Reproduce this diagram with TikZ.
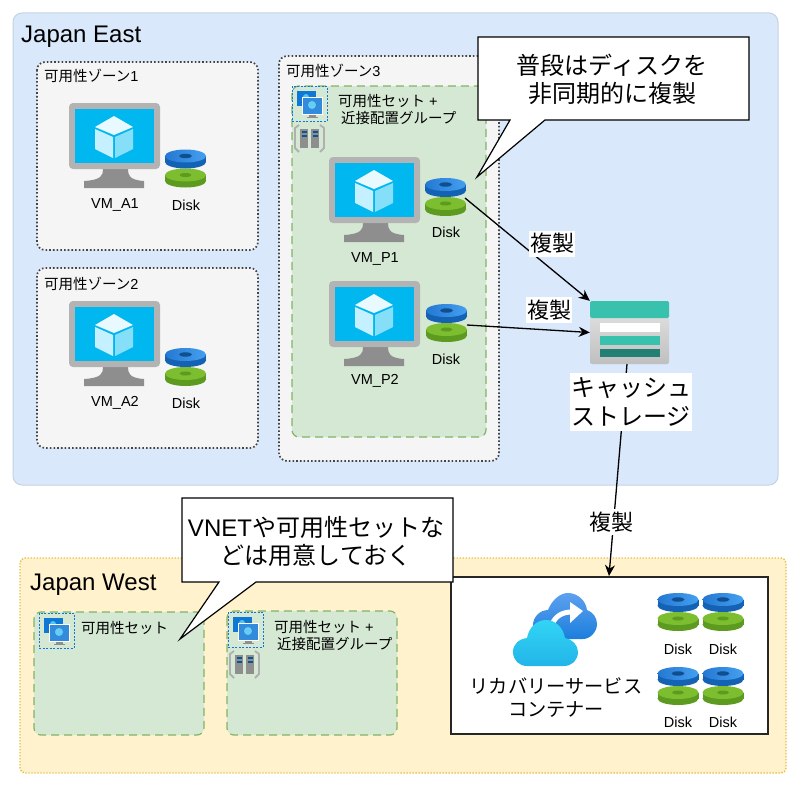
\documentclass[tikz,border=0pt]{standalone}
\usepackage{fontspec}
\setmainfont{Liberation Sans}
\newfontfamily\cjk{Noto Sans CJK JP}
\newcommand{\J}[1]{{\cjk #1}}
\usetikzlibrary{arrows.meta}
\definecolor{eastfill}{HTML}{D9E8FB}
\definecolor{eastline}{HTML}{C6D2E2}
\definecolor{zonefill}{HTML}{F5F5F5}
\definecolor{zoneline}{HTML}{444444}
\definecolor{setfill}{HTML}{D5E8D4}
\definecolor{setline}{HTML}{82B366}
\definecolor{westfill}{HTML}{FFF2CC}
\definecolor{westline}{HTML}{E8BE45}
\definecolor{monframe}{HTML}{B3B3B3}
\definecolor{monstand}{HTML}{8E8E8E}
\definecolor{monscreen}{HTML}{00B7F0}
\definecolor{cubetop}{HTML}{E8F9FF}
\definecolor{cubeleft}{HTML}{C4F0FF}
\definecolor{cuberight}{HTML}{85DFF9}
\definecolor{diskblueA}{HTML}{2478D2}
\definecolor{diskblueB}{HTML}{45A0F0}
\definecolor{diskblueC}{HTML}{1462B4}
\definecolor{diskhole}{HTML}{0F4F90}
\definecolor{diskgreenA}{HTML}{5C9A20}
\definecolor{diskgreenB}{HTML}{7DBE30}
\definecolor{teal}{HTML}{38C2AE}
\definecolor{darkteal}{HTML}{217F74}
\definecolor{iconblue}{HTML}{0F78D4}
\definecolor{cloudA}{HTML}{5EA0EF}
\definecolor{cloudB}{HTML}{1B7FDC}
\definecolor{cloudC}{HTML}{32D4F5}
\definecolor{cloudD}{HTML}{22B5E8}
\tikzset{
  zonebox/.style={rounded corners=8pt,fill=zonefill,draw=zoneline,line width=1.7pt,dash pattern=on 1.6pt off 2.1pt},
  setbox/.style={rounded corners=7pt,fill=setfill,draw=setline,line width=1.2pt,dash pattern=on 8pt off 5pt},
  small/.style={font=\fontsize{14.5}{17}\selectfont,inner sep=0pt},
  smallleft/.style={small,anchor=west},
  big/.style={font=\fontsize{24}{28}\selectfont,inner sep=0pt},
  bigleft/.style={big,anchor=base west},
  flow/.style={draw=black,line width=1.3pt,-{Stealth[length=11pt,width=10pt]}},
  repl/.style={fill=white,font=\fontsize{22}{26}\selectfont,inner xsep=1pt,inner ysep=1pt,minimum width=46pt,minimum height=26pt},
  diskslot/.style={minimum width=41pt,minimum height=38pt,inner sep=0pt},
  callout/.style={fill=white,draw=black,line width=1.2pt},
  pics/monitor/.style={code={
    \fill[monstand] (34,66) .. controls (34,72) and (33,77) .. (15,78) -- (15,85) -- (75,85) -- (75,78) .. controls (60,77) and (59,72) .. (59,66) -- cycle;
    \fill[monframe,rounded corners=4pt] (0,0) rectangle (91,66);
    \fill[monscreen] (6,6) rectangle (85,60);
    \fill[cubetop] (45,13)--(64,24)--(45,32)--(26,24)--cycle;
    \fill[cubeleft] (26,26)--(44,34)--(44,55)--(26,46)--cycle;
    \fill[cuberight] (64,26)--(46,34)--(46,55)--(64,46)--cycle;
  }},
  pics/disk/.style={code={
    % green lower plate
    \fill[diskgreenA] (0,12.5) ellipse[x radius=20.5,y radius=6.5];
    \fill[diskgreenA] (-20.5,6.5) rectangle (20.5,12.5);
    \fill[diskgreenB] (0,6.5) ellipse[x radius=20.5,y radius=6.5];
    \fill[diskgreenA] (0,6.5) ellipse[x radius=6,y radius=2];
    % blue upper plate
    \fill[diskblueC] (0,-6.5) ellipse[x radius=20.5,y radius=6.5];
    \fill[diskblueC] (-20.5,-12.5) rectangle (20.5,-6.5);
    \shade[left color=diskblueA,right color=diskblueB] (0,-12.5) ellipse[x radius=20.5,y radius=6.5];
    \fill[diskhole] (0,-12.5) ellipse[x radius=6.5,y radius=2.2];
  }},
  pics/vmset/.style={code={
    \draw[iconblue,line width=1pt,dash pattern=on 2pt off 1.5pt] (0,0) rectangle (35,35);
    \fill[iconblue] (5,5) rectangle (24,20);
    \fill[cyan!70!white] (14,11) circle (3);
    \fill[monstand] (17,27) rectangle (24,31);
    \fill[monstand] (15,30.5) rectangle (26,32);
    \fill[white] (9.5,11) rectangle (31,28.5);
    \fill[iconblue!85!white] (10.5,12) rectangle (30,27.5);
    \fill[cyan!60!white] (20,19) circle (4);
  }},
  pics/group/.style={code={
    \draw[monstand!70!white,line width=1.8pt] (6,1) -- (2,4) -- (2,24) -- (6,28);
    \draw[monstand!70!white,line width=1.8pt] (27,1) -- (31,4) -- (31,24) -- (27,28);
    \fill[monstand] (7,5) rectangle (15,24);
    \fill[monstand] (18,5) rectangle (26,24);
    \fill[iconblue!70!black] (8.5,7) rectangle (13.5,9);
    \fill[iconblue!70!black] (8.5,11) rectangle (13.5,13);
    \fill[iconblue!70!black] (19.5,7) rectangle (24.5,9);
    \fill[iconblue!70!black] (19.5,11) rectangle (24.5,13);
  }},
}
\begin{document}
\begin{tikzpicture}[x=1pt,y=-1pt]
\useasboundingbox (0,0) rectangle (800,784);
\fill[white] (0,0) rectangle (800,784);
% regions
\draw[rounded corners=9pt,line width=1pt,fill=eastfill,draw=eastline] (13,13) rectangle (778,485);
\draw[rounded corners=5pt,fill=westfill,draw=westline,line width=1.4pt,dash pattern=on 1.4pt off 1.6pt] (20,558) rectangle (786,773);
\node[bigleft] (east) at (21,43) {Japan East};
\node[bigleft] (west) at (30,590) {Japan West};
% zones
\draw[zonebox] (37,62) rectangle (258,250);
\draw[zonebox] (37,268) rectangle (258,448);
\draw[zonebox] (279,56) rectangle (499,461);
\node[smallleft] (z1) at (44,76) {\J{可用性ゾーン}1};
\node[smallleft] (z2) at (44,284) {\J{可用性ゾーン}2};
\node[smallleft] (z3) at (286,71) {\J{可用性ゾーン}3};
% set box in zone 3
\draw[setbox] (292,86) rectangle (486,437);
\pic at (292,86) {vmset};
\pic at (293,124) {group};
\node[smallleft] (s3a) at (338,101) {\J{可用性セット} +};
\node[smallleft] (s3b) at (341,118) {\J{近接配置グループ}};
% monitors
\pic at (69,103) {monitor};
\pic at (69,301) {monitor};
\pic at (329,157) {monitor};
\pic at (329,281) {monitor};
\node[small] (vma1) at (115,205) {VM\_A1};
\node[small] (vma2) at (115,403) {VM\_A2};
\node[small] (vmp1) at (375,259) {VM\_P1};
\node[small] (vmp2) at (375,381) {VM\_P2};
% disks
\node[diskslot] (da1) at (185.5,168.5) {}; \pic at (da1) {disk};
\node[diskslot] (da2) at (185.5,367) {}; \pic at (da2) {disk};
\node[diskslot] (dp1) at (445.5,197) {}; \pic at (dp1) {disk};
\node[diskslot] (dp2) at (446.5,323) {}; \pic at (dp2) {disk};
\node[small] (la1) at (186,205) {Disk};
\node[small] (la2) at (186,403) {Disk};
\node[small] (lp1) at (446,232) {Disk};
\node[small] (lp2) at (446,359) {Disk};
% storage
\node[minimum width=79pt,minimum height=63pt,inner sep=0pt,rounded corners=2pt,top color=white!90!black,bottom color=black!25] (store) at (629.5,332.5) {};
\fill[teal,rounded corners=1.5pt] (590,301) rectangle (669,318);
\fill[white] (600,323) rectangle (660,332);
\fill[teal] (600,336) rectangle (660,345);
\fill[darkteal] (600,349) rectangle (660,357);
\coordinate (p1out) at (465,198);
\coordinate (p2out) at (467,325);
\coordinate (stout) at (627,364);
% recovery container
\node[fill=white,draw=black!85,line width=1.3pt,minimum width=317pt,minimum height=157pt,inner sep=0pt] (vault) at (609.5,655.5) {};
\coordinate (vaultin) at (609,576);
% connectors
\draw[flow] (p1out) -- (store.north west);
\draw[flow] (p2out) -- (store.west);
\draw[flow] (stout) -- (vaultin);
% connector labels
\node[repl] (r1) at (552,243.5) {\J{複製}};
\node[repl] (r2) at (549,310) {\J{複製}};
\node[repl] (r3) at (611.5,522) {\J{複製}};
\node[fill=white,font=\fontsize{24}{29}\selectfont,align=center,inner sep=0pt,minimum width=122pt,minimum height=58pt] (cache) at (631,402) {\J{キャッシュ}\\\J{ストレージ}};
% west sets
\draw[setbox] (34,612) rectangle (204,735);
\draw[setbox] (227,611) rectangle (397,735);
\pic at (39,613) {vmset};
\pic at (228,612) {vmset};
\pic at (228,650) {group};
\node[smallleft] (w1) at (81,628) {\J{可用性セット}};
\node[smallleft] (w2a) at (274,627) {\J{可用性セット} +};
\node[smallleft] (w2b) at (277,644) {\J{近接配置グループ}};
% callouts
\coordinate (tip1) at (477,177);
\coordinate (tip2) at (180,639);
\draw[callout] (478,37) -- (749,37) -- (749,120) -- (545,120) -- (tip1) -- (510,120) -- (478,120) -- cycle;
\node[big,align=center] (c1) at (612,79) {\J{普段はディスクを}\\\J{非同期的に複製}};
\draw[callout] (182,498) -- (453,498) -- (453,582) -- (256,582) -- (tip2) -- (219,582) -- (182,582) -- cycle;
\node[big,align=center] (c2) at (316,541) {VNET\J{や可用性セットな}\\\J{どは用意しておく}};
% cloud
\shade[top color=cloudA,bottom color=cloudB]
  (548,639) .. controls (540,639) and (533,633) .. (533,625) .. controls (533,617) and (540,610) .. (548,610) .. controls (552,600) and (560,593) .. (568,593) .. controls (578,593) and (586,601) .. (587,610) .. controls (593,612) and (597,618) .. (597,624) .. controls (597,632) and (590,639) .. (583,639) -- cycle;
\draw[white,line width=5pt] (552,624) .. controls (556,616) and (562,612) .. (572,612);
\fill[white] (570,602) -- (583,611) -- (570,623) -- cycle;
\shade[top color=cloudC,bottom color=cloudD]
  (527,666) .. controls (519,666) and (513,660) .. (513,652) .. controls (513,644) and (519,639) .. (527,638) .. controls (529,627) and (537,620) .. (546,620) .. controls (555,620) and (563,627) .. (565,638) .. controls (572,639) and (578,645) .. (578,652) .. controls (578,660) and (572,666) .. (564,666) -- cycle;
\node[font=\fontsize{19.2}{23}\selectfont,align=center,inner sep=0pt] (rsv) at (556,698) {\J{リカバリーサービス}\\\J{コンテナー}};
% vault disks
\node[diskslot] (v1) at (678,612) {}; \pic at (v1) {disk};
\node[diskslot] (v2) at (723,612) {}; \pic at (v2) {disk};
\node[diskslot] (v3) at (678,686) {}; \pic at (v3) {disk};
\node[diskslot] (v4) at (723,686) {}; \pic at (v4) {disk};
\node[small] (lv1) at (678,649) {Disk};
\node[small] (lv2) at (723,649) {Disk};
\node[small] (lv3) at (678,722) {Disk};
\node[small] (lv4) at (723,722) {Disk};
\end{tikzpicture}
\end{document}
